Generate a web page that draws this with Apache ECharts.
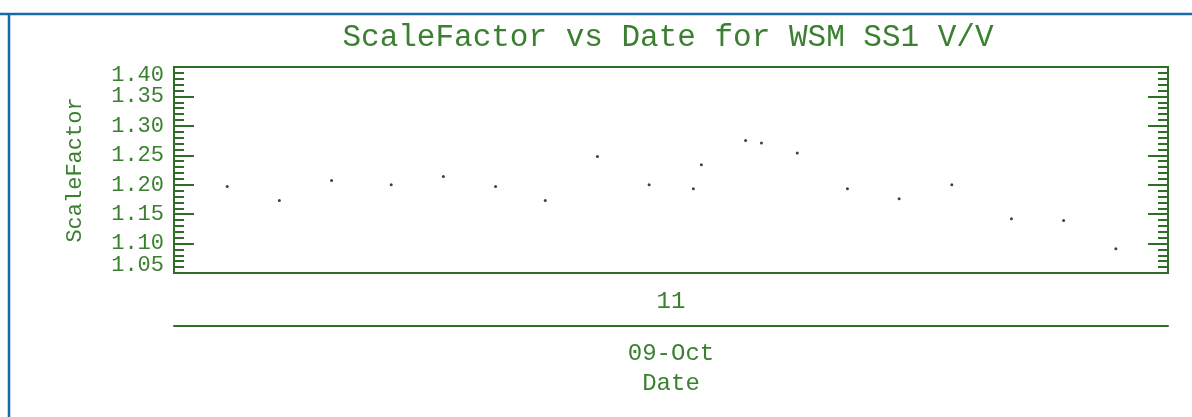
<!DOCTYPE html>
<html>
<head>
<meta charset="utf-8">
<script src="https://cdn.jsdelivr.net/npm/echarts@6/dist/echarts.min.js"></script>
<style>
html,body{margin:0;padding:0;background:#fff;}
#chart{width:1192px;height:417px;}
</style>
</head>
<body>
<div id="chart"></div>
<script>
// Hours of day (09-Oct) of each measurement
const times = [10.107, 10.212, 10.317, 10.437, 10.542, 10.647, 10.747, 10.852, 10.956,
               11.045, 11.061, 11.150, 11.182, 11.254, 11.355, 11.459, 11.565, 11.685, 11.790, 11.895];
const scaleFactor = [1.197, 1.173, 1.207, 1.200, 1.214, 1.197, 1.173, 1.248, 1.200,
                     1.193, 1.234, 1.275, 1.271, 1.254, 1.193, 1.176, 1.200, 1.142, 1.139, 1.091];
const yTicks = [1.05, 1.10, 1.15, 1.20, 1.25, 1.30, 1.35, 1.40];
const hourTickLabels = ['11'];
const dateTickLabels = ['09-Oct'];
const titleText = 'ScaleFactor vs Date for WSM SS1 V/V';
const xName = 'Date';
const yName = 'ScaleFactor';

const GREEN = '#3b8030';
const LINE = '#2f6e27';
const FONT = '"Liberation Mono", "DejaVu Sans Mono", monospace';

const points = times.map((t, i) => [t, scaleFactor[i]]);
const yMin = yTicks[0], yMax = yTicks[yTicks.length - 1];

const chart = echarts.init(document.getElementById('chart'), null, {renderer: 'canvas'});

function yAxisCfg(pos, showLabel) {
  return {
    type: 'value',
    position: pos,
    min: yMin,
    max: yMax,
    interval: 0.05,
    axisLine: {show: true, lineStyle: {color: LINE, width: 2}},
    axisTick: {show: true, inside: true, length: 20, lineStyle: {color: LINE, width: 2}},
    minorTick: {show: true, splitNumber: 5, length: 10, lineStyle: {color: LINE, width: 2}},
    splitLine: {show: false},
    axisLabel: {
      show: showLabel,
      color: GREEN,
      fontFamily: FONT,
      fontSize: 22,
      margin: 10,
      showMinLabel: false,
      showMaxLabel: false,
      formatter: v => v.toFixed(2)
    },
    name: showLabel ? yName : '',
    nameLocation: 'middle',
    nameRotate: 90,
    nameGap: 88,
    nameTextStyle: {color: GREEN, fontFamily: FONT, fontSize: 22}
  };
}

// Axis carrying only the end labels (1.40 / 1.05), pushed inside the range
const endLabelAxis = {
  type: 'value',
  position: 'left',
  min: yMin,
  max: yMax,
  interval: 0.05,
  axisLine: {show: false},
  axisTick: {show: false},
  splitLine: {show: false},
  axisLabel: {
    show: true,
    color: GREEN,
    fontFamily: FONT,
    fontSize: 22,
    margin: 10,
    showMinLabel: true,
    showMaxLabel: true,
    formatter: v => {
      const s = v.toFixed(2);
      if (Math.abs(v - yMax) < 1e-6) return '{top|' + s + '}';
      if (Math.abs(v - yMin) < 1e-6) return '{bot|' + s + '}';
      return '';
    },
    rich: {
      top: {color: GREEN, fontFamily: FONT, fontSize: 22, padding: [16, 0, 0, 0]},
      bot: {color: GREEN, fontFamily: FONT, fontSize: 22, padding: [0, 0, 16, 0]}
    }
  }
};

const option = {
  backgroundColor: '#fff',
  animation: false,
  title: {
    text: titleText,
    left: 668,
    textAlign: 'center',
    top: 22,
    padding: 0,
    textStyle: {color: GREEN, fontFamily: FONT, fontSize: 31, fontWeight: 'normal'}
  },
  grid: {
    left: 174, right: 24, top: 67, bottom: 144,
    show: true, borderColor: LINE, borderWidth: 2, backgroundColor: 'transparent'
  },
  xAxis: [
    {
      type: 'value', position: 'bottom', min: 10, max: 12, interval: 1,
      axisLine: {show: true, onZero: false, lineStyle: {color: LINE, width: 2}},
      axisTick: {show: false},
      splitLine: {show: false},
      axisLabel: {
        color: GREEN, fontFamily: FONT, fontSize: 24, margin: 17,
        showMinLabel: false, showMaxLabel: false,
        formatter: v => (v === 11 ? hourTickLabels[0] : '')
      }
    },
    {
      type: 'value', position: 'bottom', offset: 53, min: 10, max: 12, interval: 1,
      axisLine: {show: true, onZero: false, lineStyle: {color: LINE, width: 2}},
      axisTick: {show: false},
      splitLine: {show: false},
      axisLabel: {
        color: GREEN, fontFamily: FONT, fontSize: 24, margin: 16,
        showMinLabel: false, showMaxLabel: false,
        formatter: v => (v === 11 ? dateTickLabels[0] : '')
      },
      name: xName,
      nameLocation: 'middle',
      nameGap: 46,
      nameTextStyle: {color: GREEN, fontFamily: FONT, fontSize: 24}
    }
  ],
  yAxis: [yAxisCfg('left', true), yAxisCfg('right', false), endLabelAxis],
  series: [{
    type: 'scatter',
    xAxisIndex: 0,
    yAxisIndex: 0,
    data: points,
    symbol: 'circle',
    symbolSize: 3,
    itemStyle: {color: '#111'}
  }],
  graphic: [
    {type: 'line', shape: {x1: 0, y1: 14, x2: 1192, y2: 14}, style: {stroke: '#1b6aa8', lineWidth: 2.5}},
    {type: 'line', shape: {x1: 9, y1: 14, x2: 9, y2: 417}, style: {stroke: '#1b6aa8', lineWidth: 2.5}}
  ]
};
chart.setOption(option);
</script>
</body>
</html>
